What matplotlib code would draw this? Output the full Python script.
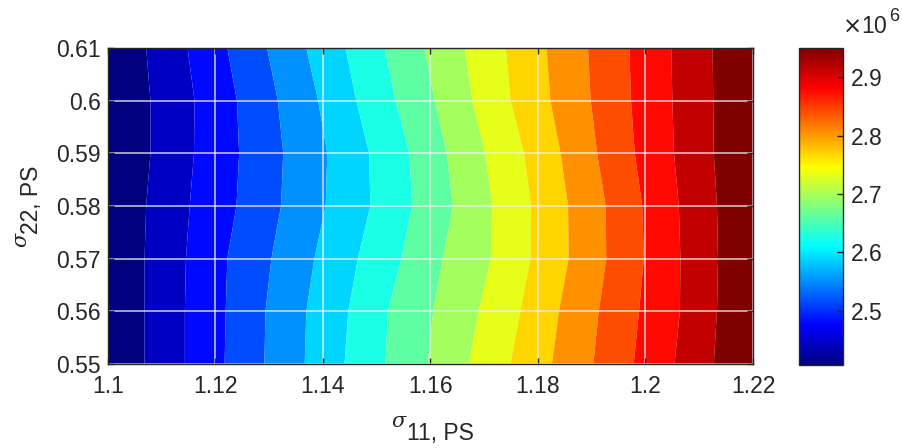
import numpy as np
import matplotlib
matplotlib.use("Agg")
import matplotlib.pyplot as plt
from matplotlib.colors import LinearSegmentedColormap, Normalize
from matplotlib.cm import ScalarMappable

plt.rcParams['font.family'] = 'Liberation Sans'

# rows of sigma_22 where the band edges were read
sigma22_rows = [0.55, 0.56, 0.57, 0.58, 0.59, 0.60, 0.61]

# sigma_11 position of each of the 15 contour edges, one list per row (bottom to top)
edges_055 = [1.1068, 1.1143, 1.1217, 1.1291, 1.1366, 1.1440, 1.1516, 1.1595, 1.1671, 1.1749, 1.1826, 1.1903, 1.1978, 1.2054, 1.2127]
edges_056 = [1.1068, 1.1143, 1.1219, 1.1293, 1.1369, 1.1447, 1.1521, 1.1605, 1.1690, 1.1767, 1.1839, 1.1913, 1.1988, 1.2064, 1.2133]
edges_057 = [1.1068, 1.1145, 1.1222, 1.1304, 1.1384, 1.1465, 1.1546, 1.1623, 1.1712, 1.1786, 1.1857, 1.1927, 1.1997, 1.2065, 1.2135]
edges_058 = [1.1071, 1.1152, 1.1239, 1.1322, 1.1405, 1.1488, 1.1566, 1.1642, 1.1715, 1.1787, 1.1856, 1.1926, 1.1994, 1.2062, 1.2133]
edges_059 = [1.1079, 1.1160, 1.1244, 1.1326, 1.1408, 1.1486, 1.1561, 1.1630, 1.1702, 1.1774, 1.1842, 1.1910, 1.1980, 1.2053, 1.2127]
edges_060 = [1.1079, 1.1161, 1.1240, 1.1316, 1.1391, 1.1462, 1.1535, 1.1608, 1.1678, 1.1749, 1.1823, 1.1898, 1.1973, 1.2050, 1.2126]
edges_061 = [1.1071, 1.1148, 1.1222, 1.1296, 1.1369, 1.1442, 1.1515, 1.1589, 1.1664, 1.1740, 1.1816, 1.1893, 1.1970, 1.2048, 1.2125]

x_min, x_max = 1.10, 1.22
z_min, z_max = 2.407e6, 2.95e6
n_bands = 16

cbar_ticks = [2.5e6, 2.6e6, 2.7e6, 2.8e6, 2.9e6]
cbar_ticklabels = ['2.5', '2.6', '2.7', '2.8', '2.9']
x_ticks = [1.10, 1.12, 1.14, 1.16, 1.18, 1.20, 1.22]
x_ticklabels = ['1.1', '1.12', '1.14', '1.16', '1.18', '1.2', '1.22']
y_ticks = [0.55, 0.56, 0.57, 0.58, 0.59, 0.60, 0.61]
y_ticklabels = ['0.55', '0.56', '0.57', '0.58', '0.59', '0.6', '0.61']

# MATLAB style jet
jet = LinearSegmentedColormap.from_list('mjet', [
    (0.0, (0, 0, 0.5)), (0.125, (0, 0, 1)), (0.375, (0, 1, 1)),
    (0.625, (1, 1, 0)), (0.875, (1, 0, 0)), (1.0, (0.5, 0, 0))], N=256)

all_edges = [edges_055, edges_056, edges_057, edges_058, edges_059, edges_060, edges_061]
levels = np.linspace(z_min, z_max, n_bands + 1)
X = np.array([[x_min] + e + [x_max] for e in all_edges])
Y = np.repeat(np.array(sigma22_rows)[:, None], X.shape[1], axis=1)
Z = np.repeat(levels[None, :], X.shape[0], axis=0)
band_colors = [jet(k / (n_bands - 1)) for k in range(n_bands)]

txt = '#262626'
fs = 16.5

fig = plt.figure(figsize=(9.03, 4.48), dpi=100)
ax = fig.add_axes([108 / 903, 84 / 448, 645 / 903, 316 / 448])
cax = fig.add_axes([799 / 903, 83 / 448, 44 / 903, 317 / 448])

ax.contourf(X, Y, Z, levels=levels, colors=band_colors, antialiased=True)

ax.set_xlim(x_min, x_max)
ax.set_ylim(0.55, 0.61)
ax.set_xticks(x_ticks)
ax.set_xticklabels(x_ticklabels)
ax.set_yticks(y_ticks)
ax.set_yticklabels(y_ticklabels)
ax.grid(True, color='#f0f0f0', lw=1.1, alpha=0.85)
ax.set_axisbelow(False)
ax.tick_params(direction='in', length=4, width=1, colors=txt, labelsize=fs,
               top=True, right=True, labelcolor=txt)
ax.tick_params(axis='x', pad=8)
ax.tick_params(axis='y', pad=5)
for s in ax.spines.values():
    s.set_color(txt)
    s.set_linewidth(1)
    s.set_zorder(5)

# axis labels: small sigma with a large subscript, like the MATLAB tex labels
sig = dict(family='DejaVu Serif', style='italic', fontsize=15, color=txt)
fig.text(399 / 903, 1 - 427 / 448, 'σ', ha='center', va='baseline', **sig)
fig.text(407 / 903, 1 - 440 / 448, '11, PS', fontsize=fs, color=txt, ha='left', va='baseline')
fig.text(21 / 903, 1 - 240 / 448, 'σ', rotation=90, ha='center', va='center', **sig)
fig.text(32 / 903, 1 - 200 / 448, '22, PS', fontsize=fs, color=txt, rotation=90, ha='center', va='center')

sm = ScalarMappable(norm=Normalize(z_min, z_max), cmap=jet)
cb = fig.colorbar(sm, cax=cax)
cb.set_ticks(cbar_ticks)
cb.set_ticklabels(cbar_ticklabels)
cax.tick_params(direction='in', length=4, width=1, colors=txt, labelsize=fs, pad=6)
cb.outline.set_edgecolor(txt)
cb.outline.set_linewidth(1)
fig.text(842 / 903, 1 - 33 / 448, r'$\times$10', fontsize=fs, color=txt, ha='left', va='baseline')
fig.text(889 / 903, 1 - 21 / 448, '6', fontsize=13, color=txt, ha='left', va='baseline')

fig.savefig('out.png', dpi=100)
